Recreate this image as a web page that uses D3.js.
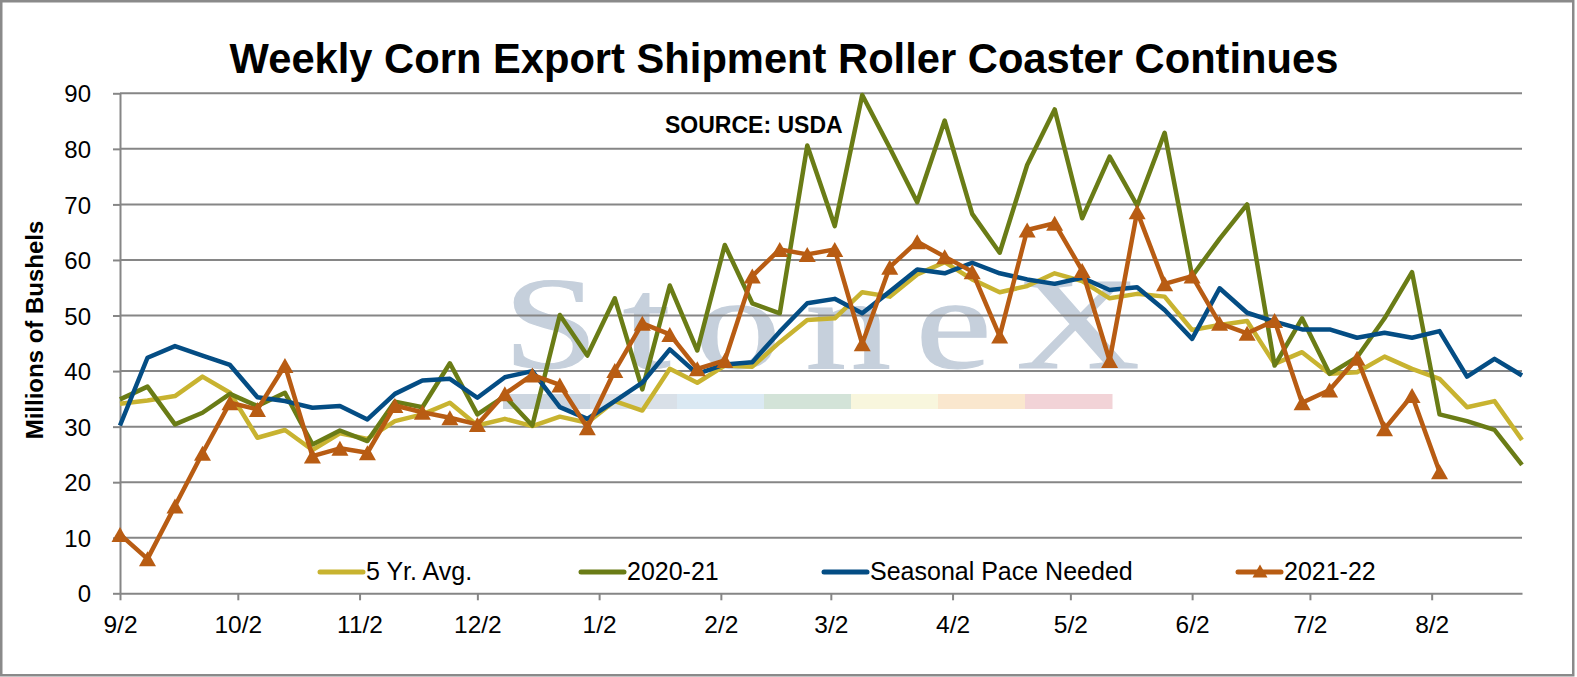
<!DOCTYPE html>
<html>
<head>
<meta charset="utf-8">
<script src="https://cdn.jsdelivr.net/npm/d3@7"></script>
<style>
  body { margin: 0; background: #fff; }
  svg { display: block; font-family: "Liberation Sans", Arial, sans-serif; }
</style>
</head>
<body>
<svg></svg>
<script>
// weekly export inspection dates (marketing year starts 9/2)
const weeks = [
  "9/2", "9/9", "9/16", "9/23", "9/30", "10/7", "10/14", "10/21", "10/28",
  "11/4", "11/11", "11/18", "11/25", "12/2", "12/9", "12/16", "12/23", "12/30",
  "1/6", "1/13", "1/20", "1/27", "2/3", "2/10", "2/17", "2/24", "3/3", "3/10",
  "3/17", "3/24", "3/31", "4/7", "4/14", "4/21", "4/28", "5/5", "5/12", "5/19",
  "5/26", "6/2", "6/9", "6/16", "6/23", "6/30", "7/7", "7/14", "7/21", "7/28",
  "8/4", "8/11", "8/18", "8/25"
];

// millions of bushels
const fiveYrAvg = [
  34.1, 34.7, 35.5, 39.0, 36.1, 28.0, 29.4, 25.8, 28.8, 27.8, 31.0, 32.2, 34.3,
  30.2, 31.4, 30.1, 31.8, 30.7, 34.6, 32.9, 40.4, 37.9, 41.0, 40.8, 45.2, 49.2,
  49.5, 54.2, 53.4, 57.4, 59.6, 56.5, 54.2, 55.3, 57.6, 56.2, 53.1, 53.9, 53.4,
  47.4, 48.3, 49.0, 41.3, 43.4, 39.5, 39.8, 42.6, 40.4, 38.6, 33.5, 34.6, 27.6
];
const season2021 = [
  34.9, 37.2, 30.4, 32.5, 35.9, 33.7, 36.1, 26.8, 29.3, 27.4, 34.5, 33.5, 41.4,
  32.2, 35.5, 30.2, 50.1, 42.8, 53.1, 36.7, 55.4, 43.7, 62.7, 52.2, 50.4, 80.6,
  66.1, 89.7, 80.2, 70.4, 85.1, 68.3, 61.3, 77.1, 87.1, 67.5, 78.6, 69.8, 82.9,
  57.1, 63.8, 70.0, 41.0, 49.5, 39.5, 42.5, 49.5, 57.8, 32.2, 31.0, 29.4, 23.1
];
const seasonalPace = [
  30.2, 42.4, 44.5, 42.8, 41.1, 35.3, 34.6, 33.4, 33.7, 31.3, 35.9, 38.3, 38.6,
  35.2, 38.9, 40.0, 33.5, 31.4, 34.6, 37.9, 43.9, 39.5, 41.2, 41.6, 47.1, 52.2,
  53.0, 50.4, 54.3, 58.3, 57.6, 59.5, 57.6, 56.5, 55.7, 56.8, 54.6, 55.1, 51.0,
  45.8, 54.9, 50.5, 48.9, 47.5, 47.5, 46.0, 46.9, 46.0, 47.2, 39.0, 42.2, 39.2
];
const season2122 = [
  10.6, 6.2, 15.7, 25.2, 34.3, 33.1, 41.0, 24.7, 26.1, 25.3, 33.8, 32.6, 31.6,
  30.4, 35.9, 39.3, 37.5, 29.8, 40.1, 48.6, 46.6, 40.4, 41.9, 57.1, 61.9, 61.0,
  61.9, 44.9, 58.7, 63.3, 60.6, 57.9, 46.3, 65.4, 66.6, 58.1, 41.9, 68.7, 55.7,
  57.1, 48.6, 46.8, 49.1, 34.3, 36.6, 42.3, 29.6, 35.6, 21.9
];

const seriesNames = ["5 Yr. Avg.", "2020-21", "Seasonal Pace Needed", "2021-22"];
const tickLabels = ["9/2", "10/2", "11/2", "12/2", "1/2", "2/2", "3/2", "4/2", "5/2", "6/2", "7/2", "8/2"];
const yTicks = [0, 10, 20, 30, 40, 50, 60, 70, 80, 90];

const width = 1577;
const height = 677;
const plotLeft = 120;
const plotRight = 1522;
const plotTop = 93.3;
const plotBottom = 593.3;
const gridColor = "#868686";
const colors = ["#C8B330", "#6A7C16", "#044D84", "#B85C13"];

const parseDay = (s) => {
  const [m, d] = s.split("/").map(Number);
  return new Date(m >= 9 ? 2021 : 2022, m - 1, d);
};
const dates = weeks.map(parseDay);

const svg = d3.select("svg").attr("width", width).attr("height", height);

const xScale = d3.scaleTime()
  .domain([dates[0], dates[dates.length - 1]])
  .range([plotLeft, plotRight]);

const yScale = d3.scaleLinear()
  .domain([0, 90])
  .range([plotBottom, plotTop]);

const triangle = (w, h) => `M0,${-h / 2}L${w / 2},${h / 2}L${-w / 2},${h / 2}Z`;

// outer frame
svg.append("rect")
  .attr("x", 1.25).attr("y", 1.25)
  .attr("width", 1572).attr("height", 674)
  .attr("fill", "#fff")
  .attr("stroke", "#8a8a8a")
  .attr("stroke-width", 2.5);

// title
svg.append("text")
  .attr("x", 784).attr("y", 73)
  .attr("text-anchor", "middle")
  .attr("font-size", 41.7)
  .attr("font-weight", "bold")
  .text("Weekly Corn Export Shipment Roller Coaster Continues");

// faded logo watermark behind the plot
const mark = svg.append("g");
mark.append("text")
  .attr("transform", "translate(503,368) scale(1.3,1)")
  .attr("font-family", "'Liberation Serif', 'DejaVu Serif', serif")
  .attr("font-size", 132)
  .attr("textLength", 490)
  .attr("lengthAdjust", "spacing")
  .attr("fill", "#c6d0dc")
  .attr("stroke", "#c6d0dc")
  .attr("stroke-width", 1.2)
  .text("StoneX");
const stripColors = ["#cdd6e0", "#d9e0e8", "#dbe9f3", "#d3e3d8", "#f8f6dd", "#fae7ce", "#f2d3d7"];
mark.selectAll("rect.strip")
  .data(stripColors)
  .enter()
  .append("rect")
  .attr("class", "strip")
  .attr("x", (d, i) => 503 + i * 87)
  .attr("y", 394)
  .attr("width", 87.5)
  .attr("height", 15)
  .attr("fill", (d) => d);

// horizontal gridlines
svg.append("g")
  .selectAll("line")
  .data(yTicks.filter((t) => t > 0))
  .enter()
  .append("line")
  .attr("x1", plotLeft).attr("x2", plotRight)
  .attr("y1", (d) => yScale(d)).attr("y2", (d) => yScale(d))
  .attr("stroke", gridColor)
  .attr("stroke-width", 2);

// axes
const tickDates = tickLabels.map(parseDay);
const xAxis = d3.axisBottom(xScale)
  .tickValues(tickDates)
  .tickFormat((d, i) => tickLabels[i])
  .tickSize(7)
  .tickSizeOuter(0)
  .tickPadding(15);
const yAxis = d3.axisLeft(yScale)
  .tickValues(yTicks)
  .tickFormat((d) => d)
  .tickSize(7)
  .tickSizeOuter(0)
  .tickPadding(22);

const gx = svg.append("g")
  .attr("transform", "translate(0," + plotBottom + ")")
  .call(xAxis);
const gy = svg.append("g")
  .attr("transform", "translate(" + plotLeft + ",0)")
  .call(yAxis);

[gx, gy].forEach((g) => {
  g.select(".domain").attr("stroke", gridColor).attr("stroke-width", 2);
  g.selectAll(".tick line").attr("stroke", gridColor).attr("stroke-width", 2);
  g.selectAll(".tick text")
    .attr("font-family", "'Liberation Sans', Arial, sans-serif")
    .attr("font-size", 24)
    .attr("fill", "#000");
});
gx.selectAll(".tick text").attr("font-size", 24.5);
gy.selectAll(".tick text").attr("dy", "0.36em");

// axis title
svg.append("text")
  .attr("transform", "translate(43,330) rotate(-90)")
  .attr("text-anchor", "middle")
  .attr("font-size", 24)
  .attr("font-weight", "bold")
  .text("Millions of Bushels");

svg.append("text")
  .attr("x", 665).attr("y", 133)
  .attr("font-size", 23)
  .attr("font-weight", "bold")
  .text("SOURCE: USDA");

// series lines
const line = d3.line()
  .x((d, i) => xScale(dates[i]))
  .y((d) => yScale(d));

const allSeries = [fiveYrAvg, season2021, seasonalPace, season2122];
allSeries.forEach((values, k) => {
  svg.append("path")
    .datum(values)
    .attr("d", line)
    .attr("fill", "none")
    .attr("stroke", colors[k])
    .attr("stroke-width", 4.5)
    .attr("stroke-linejoin", "round");
});

svg.append("g")
  .selectAll("path")
  .data(season2122)
  .enter()
  .append("path")
  .attr("d", triangle(17, 15))
  .attr("transform", (d, i) => `translate(${xScale(dates[i])},${yScale(d)})`)
  .attr("fill", colors[3]);

// legend
const legendX = [320, 581, 824, 1238];
const legend = svg.append("g");
seriesNames.forEach((name, k) => {
  legend.append("line")
    .attr("x1", legendX[k]).attr("x2", legendX[k] + 43)
    .attr("y1", 572).attr("y2", 572)
    .attr("stroke", colors[k])
    .attr("stroke-width", 5)
    .attr("stroke-linecap", "round");
  if (k === 3) {
    legend.append("path")
      .attr("d", triangle(15, 13))
      .attr("transform", `translate(${legendX[k] + 22},${571})`)
      .attr("fill", colors[k]);
  }
  legend.append("text")
    .attr("x", legendX[k] + 46)
    .attr("y", 580)
    .attr("font-size", 25)
    .text(name);
});
</script>
</body>
</html>
